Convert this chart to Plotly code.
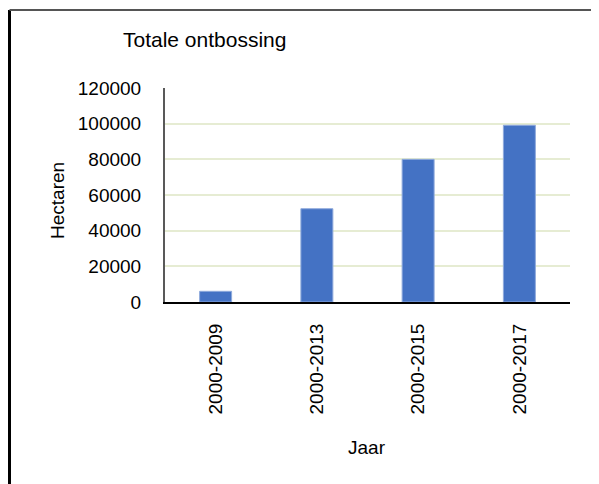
# Totale ontbossing per periode
import plotly.graph_objects as go

perioden = ['2000-2009', '2000-2013', '2000-2015', '2000-2017']
hectaren = [6000, 52300, 80000, 99100]
y_ticks = [0, 20000, 40000, 60000, 80000, 100000, 120000]

lettertype = 'Liberation Sans, Arial, sans-serif'

# de pagina zet de grafiek 8px naar rechts/onder (body-marge), daarom is alles hier 8px verschoven
fig = go.Figure()
fig.add_trace(go.Bar(x=perioden, y=hectaren, marker=dict(color='#4472C4', line=dict(width=1, color='#8FAADC'))))

fig.update_layout(
    width=599, height=484,
    margin=dict(l=157, r=37, t=80, b=190),
    paper_bgcolor='white', plot_bgcolor='white',
    font=dict(family=lettertype, size=19, color='black'),
    bargap=0.684,
    showlegend=False,
    title=dict(text='Totale ontbossing', font=dict(size=21, color='black'),
               xref='container', x=115/599, xanchor='left',
               yref='container', y=1 - 32/484, yanchor='middle'),
)
fig.update_xaxes(showline=True, linecolor='black', linewidth=2, tickangle=-90,
                 ticks='', ticklabelstandoff=12, showgrid=False)
fig.update_yaxes(range=[0, 120000], tickvals=y_ticks, ticktext=[str(v) for v in y_ticks],
                 showline=True, linecolor='#595959', linewidth=2, ticks='',
                 ticklabelstandoff=18, showgrid=True, gridcolor='#E6ECD3', gridwidth=2,
                 zeroline=False)

# as-titels
fig.add_annotation(text='Hectaren', textangle=-90, xref='paper', yref='paper',
                   x=(57 - 165) / 405, y=(302 - 201) / 214, showarrow=False,
                   xanchor='center', yanchor='middle', font=dict(size=19))
fig.add_annotation(text='Jaar', xref='paper', yref='paper',
                   x=(367 - 165) / 405, y=(302 - 447) / 214, showarrow=False,
                   xanchor='center', yanchor='middle', font=dict(size=19))

# kader rond de grafiek
links, rechts, boven, onder = (9.5 - 165) / 405, (596 - 165) / 405, (302 - 10) / 214, (302 - 500) / 214
fig.add_shape(type='line', xref='paper', yref='paper', x0=links, x1=links,
              y0=boven, y1=onder, line=dict(color='black', width=3))
fig.add_shape(type='line', xref='paper', yref='paper', x0=rechts, x1=rechts,
              y0=boven, y1=onder, line=dict(color='black', width=3))
fig.add_shape(type='line', xref='paper', yref='paper', x0=links, x1=rechts,
              y0=boven, y1=boven, line=dict(color='#555555', width=2))

fig.write_html('out.html')
